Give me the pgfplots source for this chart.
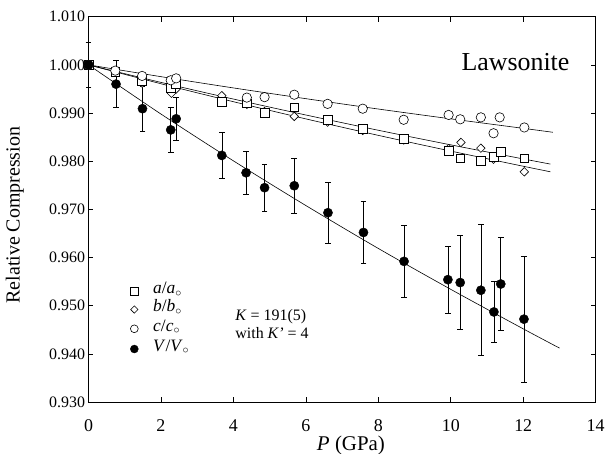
\documentclass[border=0pt]{standalone}
\usepackage{pgfplots}
\pgfplotsset{compat=1.18}
\usepackage{pgfplotstable}
\usepackage{fontspec}
\setmainfont{Liberation Serif}

\pgfplotstableread{
p v e
0.00 1.0000 0.0047
0.76 0.9960 0.0049
1.49 0.9909 0.0047
2.27 0.9865 0.0047
2.42 0.9888 0.0044
3.68 0.9812 0.0047
4.35 0.9776 0.0044
4.86 0.9745 0.0049
5.68 0.9749 0.0057
6.61 0.9693 0.0063
7.59 0.9652 0.0064
8.71 0.9592 0.0074
9.92 0.9554 0.0070
10.26 0.9548 0.0098
10.83 0.9532 0.0136
11.19 0.9487 0.0064
11.38 0.9545 0.0096
12.02 0.9472 0.0131
}\Vdata

\pgfplotstableread{
p v
0.00 1.0000
0.74 0.9986
1.48 0.9967
2.27 0.9952
2.42 0.9960
3.68 0.9924
4.37 0.9920
4.86 0.9900
5.68 0.9912
6.60 0.9886
7.57 0.9867
8.70 0.9846
9.94 0.9822
10.26 0.9806
10.83 0.9801
11.18 0.9809
11.37 0.9820
12.03 0.9806
}\Adata

\pgfplotstableread{
p v
0.00 1.0000
0.74 0.9985
1.48 0.9962
2.29 0.9941
2.42 0.9950
3.68 0.9936
4.37 0.9918
4.86 0.9903
5.68 0.9893
6.60 0.9881
7.57 0.9864
8.70 0.9844
9.94 0.9826
10.28 0.9839
10.83 0.9827
11.18 0.9804
12.03 0.9778
}\Bdata

\pgfplotstableread{
p v
0.00 1.0000
0.74 0.9988
1.48 0.9977
2.27 0.9968
2.42 0.9972
4.37 0.9932
4.86 0.9933
5.68 0.9938
6.60 0.9919
7.57 0.9909
8.70 0.9886
9.94 0.9896
10.26 0.9887
10.83 0.9891
11.18 0.9858
11.35 0.9891
12.03 0.9870
}\Cdata

\begin{document}
\begin{tikzpicture}
\useasboundingbox (-88.5bp,-52bp) rectangle (520.5bp,402bp);
\begin{axis}[
  scale only axis, width=507.2bp, height=385.3bp,
  xmin=0, xmax=14, ymin=0.930, ymax=1.010,
  xtick={0,2,4,6,8,10,12,14},
  ytick={0.930,0.940,0.950,0.960,0.970,0.980,0.990,1.000,1.010},
  tick align=inside, major tick length=5bp,
  tick style={black, line width=0.6pt},
  axis line style={black, line width=0.8pt},
  /pgf/number format/assume math mode=true,
  yticklabel style={font=\fontsize{16}{18}\selectfont, /pgf/number format/.cd, fixed, fixed zerofill, precision=3},
  xticklabel style={font=\fontsize{18}{20}\selectfont, yshift=-14bp},
  scaled y ticks=false,
  xlabel={\textit{P} (GPa)},
  ylabel={Relative Compression},
  xlabel style={font=\fontsize{21}{23}\selectfont, at={(axis description cs:0.5175,-0.1116)}, anchor=center},
  ylabel style={font=\fontsize{20}{22}\selectfont, at={(axis description cs:-0.145,0.485)}, anchor=center},
  clip=false,
]
% fit curves
\addplot[black, line width=0.6pt, smooth] coordinates {(0,1.000)(2,0.98979)(4,0.98007)(6,0.97079)(8,0.96188)(10,0.95339)(12,0.94519)(13,0.94120)};
\addplot[black, line width=0.6pt, smooth] coordinates {(0,1.000)(2,0.99636)(4,0.99290)(6,0.98959)(8,0.98642)(10,0.98339)(12,0.98047)(12.75,0.9794)};
\addplot[black, line width=0.6pt, smooth] coordinates {(0,1.000)(2,0.99608)(4,0.99235)(6,0.98878)(8,0.98536)(10,0.98210)(12,0.97895)(12.75,0.9778)};
\addplot[black, line width=0.6pt, smooth] coordinates {(0,1.000)(2,0.99755)(4,0.99521)(6,0.99298)(8,0.99083)(10,0.98879)(12,0.98682)(12.82,0.9860)};
% data
\addplot[only marks, mark=square*, mark size=3.0bp, mark options={rotate=45, fill=white, draw=black, line width=0.6pt}] table[x=p,y=v] {\Bdata};
\addplot[only marks, mark=square*, mark size=4.4bp, mark options={fill=white, draw=black, line width=0.6pt}] table[x=p,y=v] {\Adata};
\addplot[only marks, mark=*, mark size=4.7bp, mark options={fill=white, draw=black, line width=0.6pt}] table[x=p,y=v] {\Cdata};
\addplot[only marks, mark=*, mark size=4.6bp, mark options={fill=black, draw=black},
  error bars/.cd, y dir=both, y explicit,
  error bar style={black, line width=0.6pt},
  error mark options={rotate=90, black, mark size=2.8bp, line width=0.6pt}]
  table[x=p,y=v,y error=e] {\Vdata};
% legend markers
\addplot[only marks, mark=square*, mark size=3.6bp, mark options={fill=white, draw=black, line width=0.6pt}] coordinates {(1.265,0.9530)};
\addplot[only marks, mark=square*, mark size=2.6bp, mark options={rotate=45, fill=white, draw=black, line width=0.6pt}] coordinates {(1.265,0.9492)};
\addplot[only marks, mark=*, mark size=3.9bp, mark options={fill=white, draw=black, line width=0.6pt}] coordinates {(1.265,0.9452)};
\addplot[only marks, mark=*, mark size=4.0bp, mark options={fill=black, draw=black}] coordinates {(1.265,0.9410)};
\node[anchor=mid west, inner sep=0pt, font=\fontsize{17.5}{19}\selectfont] at (axis cs:1.78,0.9530) {\textit{a}/\textit{a}$_\circ$};
\node[anchor=mid west, inner sep=0pt, font=\fontsize{17.5}{19}\selectfont] at (axis cs:1.78,0.9492) {\textit{b}/\textit{b}$_\circ$};
\node[anchor=mid west, inner sep=0pt, font=\fontsize{17.5}{19}\selectfont] at (axis cs:1.78,0.9452) {\textit{c}/\textit{c}$_\circ$};
\node[anchor=mid west, inner sep=0pt, font=\fontsize{17.5}{19}\selectfont] at (axis cs:1.78,0.9410) {\textit{V}/\textit{V}$_\circ$};
\node[anchor=base west, inner sep=0pt, font=\fontsize{16}{18}\selectfont] at (axis cs:4.05,0.94685) {\textit{K} = 191(5)};
\node[anchor=base west, inner sep=0pt, font=\fontsize{16}{18}\selectfont] at (axis cs:4.05,0.94318) {with \textit{K’} = 4};
\node[anchor=base east, inner sep=0pt, font=\fontsize{26}{28}\selectfont] at (axis cs:13.28,0.99873) {Lawsonite};
\end{axis}
\end{tikzpicture}
\end{document}
